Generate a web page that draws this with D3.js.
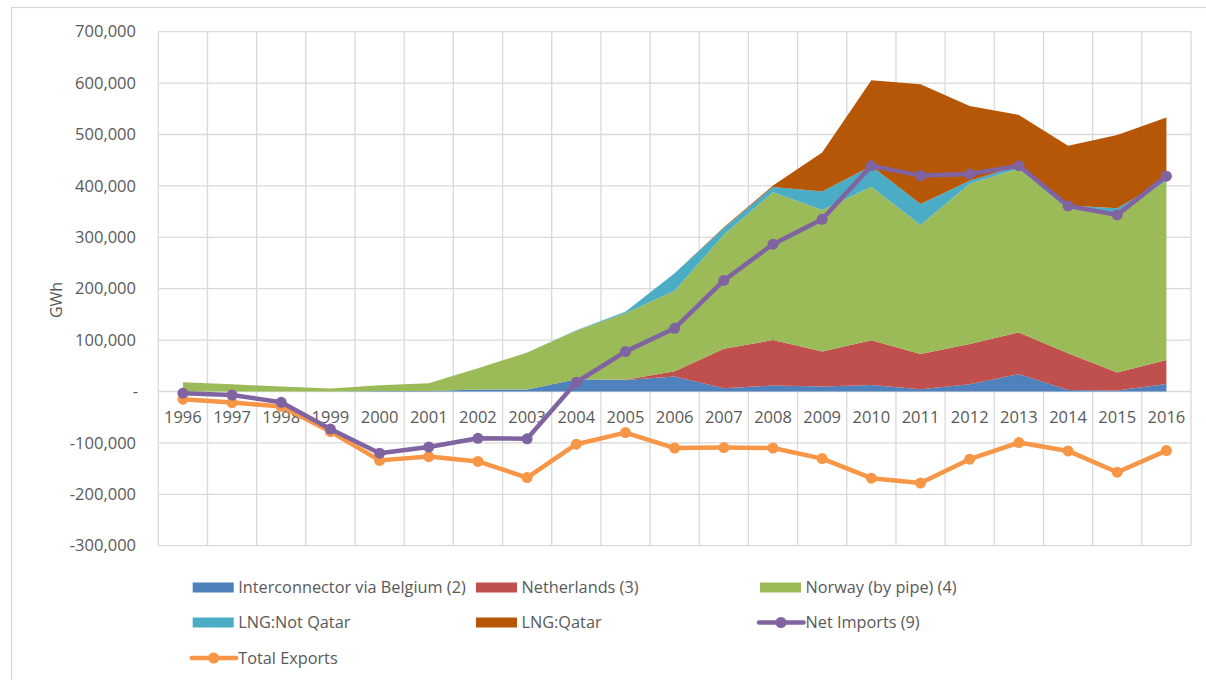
<!DOCTYPE html>
<html>
<head>
<meta charset="utf-8">
<script src="https://cdn.jsdelivr.net/npm/d3@7"></script>
<style>
  body { margin: 0; background: #fff; }
  text { font-family: "Open Sans", sans-serif; fill: #595959; }
</style>
</head>
<body>
<svg id="chart" width="1206" height="680"></svg>
<script>
// data (GWh)
const years = ["1996","1997","1998","1999","2000","2001","2002","2003","2004","2005","2006",
               "2007","2008","2009","2010","2011","2012","2013","2014","2015","2016"];

const belgium     = [0, 0, 0, 0, 1000, 1000, 4000, 4000, 24000, 22600, 29000,
                     6400, 11500, 9600, 12800, 4500, 14000, 34000, 3000, 2000, 14800];
const netherlands = [0, 0, 0, 0, 0, 0, 0, 0, 0, 500, 10500,
                     76600, 88500, 68000, 87000, 68500, 78600, 81000, 71500, 35000, 46700];
const norway      = [18000, 14000, 9500, 6000, 11000, 15000, 41000, 72000, 94000, 129000, 156500,
                     222000, 287700, 275400, 298700, 251000, 311400, 319000, 280500, 311000, 348500];
const lngNotQatar = [0, 0, 0, 0, 0, 0, 0, 0, 1000, 3000, 34000,
                     13000, 10000, 36000, 40000, 41000, 6000, 5000, 7000, 8600, 2000];
const lngQatar    = [0, 0, 0, 0, 0, 0, 0, 0, 0, 0, 0,
                     1500, 3000, 76000, 167000, 233000, 145600, 99000, 116000, 142400, 121000];
const netImports  = [-3300, -7000, -21000, -73000, -120000, -108000, -91000, -92000, 18000, 77600, 123000,
                     216000, 286600, 335000, 439000, 420000, 423000, 439000, 361000, 343600, 419000];
const totalExports = [-15000, -21500, -29000, -78000, -134000, -126600, -136000, -167500, -102500, -80000, -110000,
                      -109000, -110000, -130500, -168700, -178000, -131700, -99400, -115600, -157000, -115000];

const yTicks = [-300000, -200000, -100000, 0, 100000, 200000, 300000, 400000, 500000, 600000, 700000];

const areaSeries = [
  {key: "belgium", name: "Interconnector via Belgium (2)", values: belgium, color: "#4f81bd"},
  {key: "netherlands", name: "Netherlands (3)", values: netherlands, color: "#c0504d"},
  {key: "norway", name: "Norway (by pipe) (4)", values: norway, color: "#9bbb59"},
  {key: "lngNotQatar", name: "LNG:Not Qatar", values: lngNotQatar, color: "#4bacc6"},
  {key: "lngQatar", name: "LNG:Qatar", values: lngQatar, color: "#b65708"}
];
const lineSeries = [
  {name: "Net Imports (9)", values: netImports, color: "#8064a2"},
  {name: "Total Exports", values: totalExports, color: "#f79646"}
];

const svg = d3.select("#chart");
const plotL = 158.3, plotR = 1191, plotT = 31.7, plotB = 545.7;

// outer chart frame
svg.append("rect")
  .attr("x", 11.5).attr("y", 7.5)
  .attr("width", 1230).attr("height", 700)
  .attr("fill", "none").attr("stroke", "#d9d9d9").attr("stroke-width", 1.3);

const x = d3.scaleBand().domain(years).range([plotL, plotR]);
const y = d3.scaleLinear().domain([-300000, 700000]).range([plotB, plotT]);
const cx = d => x(d) + x.bandwidth() / 2;

// grid
const grid = svg.append("g").attr("stroke", "#d9d9d9").attr("stroke-width", 1.3);
grid.selectAll(".h").data(yTicks).join("line")
  .attr("x1", plotL).attr("x2", plotR)
  .attr("y1", d => y(d)).attr("y2", d => y(d));
grid.selectAll(".v").data(years.concat(["end"])).join("line")
  .attr("x1", d => d === "end" ? plotR : x(d))
  .attr("x2", d => d === "end" ? plotR : x(d))
  .attr("y1", plotT).attr("y2", plotB);

// y labels (plain hyphen for negatives, like the original)
const fmt = d3.formatLocale({decimal: ".", thousands: ",", grouping: [3], currency: ["", ""], minus: "-"}).format(",");
svg.append("g").selectAll("text").data(yTicks).join("text")
  .attr("x", d => d === 0 ? 138 : 136)
  .attr("y", d => y(d))
  .attr("dy", "0.35em")
  .attr("text-anchor", "end")
  .style("font-size", "16.5px")
  .text(d => d === 0 ? "-" : fmt(d));

svg.append("text")
  .attr("transform", "translate(56,300) rotate(-90)")
  .attr("text-anchor", "middle")
  .attr("dy", "0.35em")
  .style("font-size", "16px")
  .text("GWh");

// stacked areas
const table = years.map((yr, i) => {
  const row = {year: yr};
  areaSeries.forEach(s => row[s.key] = s.values[i]);
  return row;
});
const stacked = d3.stack().keys(areaSeries.map(s => s.key))(table);
const area = d3.area()
  .x(d => cx(d.data.year))
  .y0(d => y(d[0]))
  .y1(d => y(d[1]));
svg.append("g").selectAll("path").data(stacked).join("path")
  .attr("d", area)
  .attr("fill", (d, i) => areaSeries[i].color);

// x labels under the zero line
svg.append("g").selectAll("text").data(years).join("text")
  .attr("x", d => cx(d))
  .attr("y", y(0) + 26)
  .attr("dy", "0.35em")
  .attr("text-anchor", "middle")
  .style("font-size", "16.5px")
  .text(d => d);

// lines with markers
const line = d3.line().x((d, i) => cx(years[i])).y(d => y(d));
lineSeries.slice().reverse().forEach(s => {
  const g = svg.append("g");
  g.append("path")
    .attr("d", line(s.values))
    .attr("fill", "none")
    .attr("stroke", s.color)
    .attr("stroke-width", 4.5)
    .attr("stroke-linejoin", "round");
  g.selectAll("circle").data(s.values).join("circle")
    .attr("cx", (d, i) => cx(years[i]))
    .attr("cy", d => y(d))
    .attr("r", 5.5)
    .attr("fill", s.color);
});

// legend
const cols = [192.7, 476, 760];
const rows = [587.5, 622.5, 658];
const legendItems = areaSeries.map(s => ({name: s.name, color: s.color, type: "area"}))
  .concat(lineSeries.map(s => ({name: s.name, color: s.color, type: "line"})));
const lg = svg.append("g");
legendItems.forEach((it, i) => {
  const lx = cols[i % 3], ly = rows[Math.floor(i / 3)];
  if (it.type === "area") {
    lg.append("rect")
      .attr("x", lx).attr("y", ly - 5)
      .attr("width", 41).attr("height", 10)
      .attr("fill", it.color);
  } else {
    lg.append("line")
      .attr("x1", lx - 1).attr("x2", lx + 43.5)
      .attr("y1", ly).attr("y2", ly)
      .attr("stroke", it.color).attr("stroke-width", 4.5)
      .attr("stroke-linecap", "round");
    lg.append("circle")
      .attr("cx", lx + 21).attr("cy", ly).attr("r", 5.5)
      .attr("fill", it.color);
  }
  lg.append("text")
    .attr("x", lx + 45.5)
    .attr("y", ly)
    .attr("dy", "0.35em")
    .style("font-size", "16.3px")
    .text(it.name);
});
</script>
</body>
</html>
